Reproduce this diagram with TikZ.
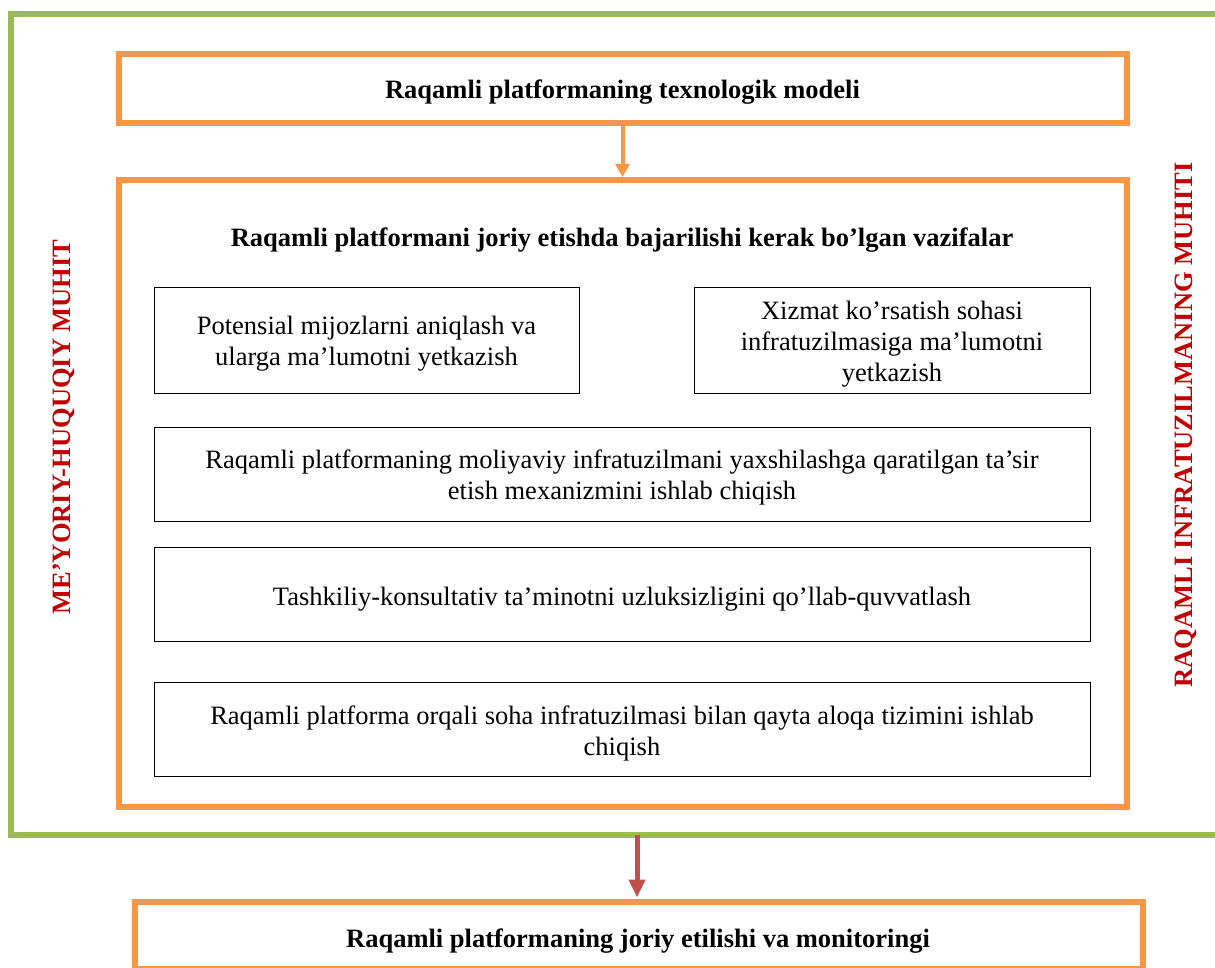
\documentclass[tikz,border=0pt]{standalone}
\usepackage{fontspec}
\setmainfont{Liberation Serif}
\usetikzlibrary{arrows.meta}
\definecolor{orng}{HTML}{F79646}
\definecolor{grn}{HTML}{9BBB59}
\definecolor{redarrow}{HTML}{C0504D}
\definecolor{redtxt}{HTML}{C00000}
\begin{document}
\begin{tikzpicture}[x=1pt,y=-1pt,
  obox/.style={draw=orng, line width=6pt, inner sep=0pt},
  tbox/.style={draw=black, line width=1pt, inner sep=0pt},
  boxtxt/.style={inner sep=0pt, align=center, font=\fontsize{26.5}{31}\selectfont},
  sidetxt/.style={rotate=90, text=redtxt, font=\fontsize{26.5}{31}\selectfont\bfseries},
  titletxt/.style={inner sep=0pt, font=\fontsize{26.5}{31}\selectfont\bfseries}]
\useasboundingbox (0,0) rectangle (1215,968);
% green frame
\draw[grn, line width=6pt] (1220,14.5) -- (11,14.5) -- (11,834.5) -- (1220,834.5);
\coordinate (gb) at (637,834.5);
% top box
\node[obox, minimum width=1008pt, minimum height=68.5pt] (top) at (622.5,88.75) {};
\node[titletxt] (toptxt) at ([yshift=-3pt]top.center) {Raqamli platformaning texnologik modeli};
% inner box
\node[obox, minimum width=1008pt, minimum height=626.5pt] (inner) at (622.5,493.75) {};
\node[titletxt] (ttl) at (622,240) {Raqamli platformani joriy etishda bajarilishi kerak bo’lgan vazifalar};
% task boxes
\node[tbox, minimum width=425pt, minimum height=105pt] (b1) at (366.5,340.5) {};
\node[boxtxt] (b1t) at ([yshift=-3pt]b1.center) {Potensial mijozlarni aniqlash va\\ ularga ma’lumotni yetkazish};
\node[tbox, minimum width=396pt, minimum height=105pt] (b2) at (892,340.5) {};
\node[boxtxt] (b2t) at ([yshift=-4pt]b2.center) {Xizmat ko’rsatish sohasi\\ infratuzilmasiga ma’lumotni\\ yetkazish};
\node[tbox, minimum width=936pt, minimum height=94pt] (b3) at (622,474) {};
\node[boxtxt] (b3t) at ([yshift=-3pt]b3.center) {Raqamli platformaning moliyaviy infratuzilmani yaxshilashga qaratilgan ta’sir\\ etish mexanizmini ishlab chiqish};
\node[tbox, minimum width=936pt, minimum height=94pt] (b4) at (622,594) {};
\node[boxtxt] (b4t) at ([yshift=-5pt]b4.center) {Tashkiliy-konsultativ ta’minotni uzluksizligini qo’llab-quvvatlash};
\node[tbox, minimum width=936pt, minimum height=94pt] (b5) at (622,729) {};
\node[boxtxt] (b5t) at ([yshift=-4pt]b5.center) {Raqamli platforma orqali soha infratuzilmasi bilan qayta aloqa tizimini ishlab\\ chiqish};
% bottom box
\node[obox, minimum width=1008.5pt, minimum height=67.5pt] (bot) at (638.75,935.25) {};
\node[titletxt] (bottxt) at (638,941) {Raqamli platformaning joriy etilishi va monitoringi};
% side texts
\node[sidetxt] (lt) at (64,427) {ME’YORIY-HUQUQIY MUHIT};
\node[sidetxt] (rt) at (1186,425) {RAQAMLI INFRATUZILMANING MUHITI};
% arrows
\draw[orng, line width=4pt, shorten >=0.5pt, -{Triangle[width=14pt,length=13pt]}] (top.south) -- (inner.north);
\draw[redarrow, line width=5pt, shorten >=1pt, -{Triangle[width=16pt,length=18pt]}] (gb) -- (gb |- bot.north);
\end{tikzpicture}
\end{document}
